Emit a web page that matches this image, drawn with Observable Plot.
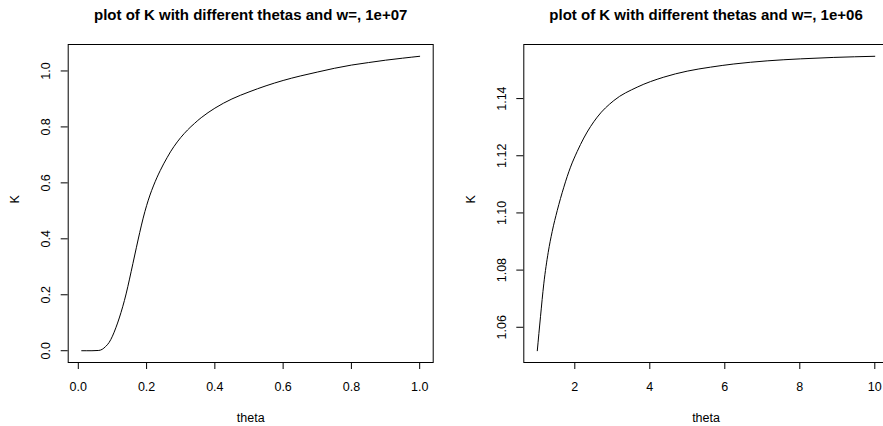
<!DOCTYPE html>
<html><head><meta charset="utf-8">
<script src="https://cdn.jsdelivr.net/npm/d3@7"></script>
<script src="https://cdn.jsdelivr.net/npm/@observablehq/plot@0.6"></script>
<style>
body{margin:0;background:#fff}
#wrap{position:relative;width:883px;height:426px;overflow:hidden;background:#fff}
.panel{position:absolute;top:0}
</style>
</head><body><div id="wrap"></div>
<script>
// Left panel (w = 1e+07)
const titleA = "plot of K with different thetas and w=, 1e+07";
const thetaA = [0.01, 0.04, 0.06, 0.07, 0.08, 0.09, 0.10, 0.11, 0.12, 0.13, 0.14, 0.15, 0.16, 0.17, 0.18, 0.19, 0.20, 0.21, 0.22, 0.23, 0.24, 0.25, 0.26, 0.27, 0.28, 0.29, 0.30, 0.31, 0.32, 0.33, 0.34, 0.35, 0.36, 0.38, 0.40, 0.45, 0.50, 0.55, 0.60, 0.65, 0.70, 0.75, 0.80, 0.85, 0.90, 0.95, 1.00];
const kA     = [0, 0, 0.001, 0.005, 0.015, 0.029, 0.052, 0.082, 0.117, 0.157, 0.203, 0.256, 0.312, 0.368, 0.423, 0.474, 0.5185, 0.5565, 0.589, 0.618, 0.644, 0.668, 0.690, 0.711, 0.7295, 0.7465, 0.762, 0.776, 0.789, 0.801, 0.812, 0.823, 0.833, 0.851, 0.867, 0.900, 0.925, 0.947, 0.966, 0.982, 0.996, 1.0095, 1.021, 1.030, 1.0385, 1.0457, 1.0525];
const xTicksA = [0, 0.2, 0.4, 0.6, 0.8, 1.0];
const yTicksA = [0, 0.2, 0.4, 0.6, 0.8, 1.0];

// Right panel (w = 1e+06)
const titleB = "plot of K with different thetas and w=, 1e+06";
const thetaB = [1.0, 1.085, 1.173, 1.291, 1.397, 1.531, 1.707, 1.885, 2.064, 2.24, 2.597, 3.04, 3.664, 4.373, 4.997, 5.619, 6.24, 7.13, 8.02, 8.907, 10.0];
const kB     = [1.0518, 1.0637, 1.0752, 1.0862, 1.0935, 1.1008, 1.1090, 1.1160, 1.1215, 1.1262, 1.1335, 1.1393, 1.1440, 1.1475, 1.1496, 1.1510, 1.1521, 1.1532, 1.1539, 1.1544, 1.1548];
const xTicksB = [2, 4, 6, 8, 10];
const yTicksB = [1.06, 1.08, 1.10, 1.12, 1.14];

const xLabel = "theta";
const yLabel = "K";

function pad(ext) { const r = ext[1] - ext[0]; return [ext[0] - 0.04 * r, ext[1] + 0.04 * r]; }

function panel({theta, k, title, xTicks, yTicks, xFmt, yFmt, width, marginLeft, marginRight}) {
  const data = theta.map((t, i) => ({theta: t, K: k[i]}));
  return Plot.plot({
    width, height: 426, marginLeft, marginRight, marginTop: 44, marginBottom: 64,
    style: {fontFamily: "'Liberation Sans', Arial, Helvetica, sans-serif", fontSize: "12.5px", background: "white", color: "black", overflow: "visible"},
    x: {domain: pad(d3.extent(theta))},
    y: {domain: pad(d3.extent(k))},
    marks: [
      Plot.frame({stroke: "black", strokeWidth: 1}),
      Plot.axisX({ticks: xTicks, tickSize: 7, tickPadding: 13, tickFormat: xFmt, label: null}),
      Plot.axisY({ticks: yTicks, tickSize: 7, tickPadding: 11, tickRotate: -90, tickFormat: yFmt, label: null}),
      Plot.line(data, {x: "theta", y: "K", stroke: "black", strokeWidth: 1, curve: "monotone-x"}),
      Plot.text([title], {frameAnchor: "top", dy: -25, lineAnchor: "bottom", fontWeight: "bold", fontSize: 15, text: d => d}),
      Plot.text([xLabel], {frameAnchor: "bottom", dy: 59, lineAnchor: "bottom", text: d => d}),
      Plot.text([yLabel], {frameAnchor: "left", dx: -49, rotate: -90, lineAnchor: "bottom", text: d => d})
    ]
  });
}

const wrap = document.getElementById("wrap");
const a = panel({theta: thetaA, k: kA, title: titleA, xTicks: xTicksA, yTicks: yTicksA,
  xFmt: d3.format(".1f"), yFmt: d3.format(".1f"), width: 441, marginLeft: 67.7, marginRight: 8.3});
a.classList.add("panel"); a.style.left = "0px";
const b = panel({theta: thetaB, k: kB, title: titleB, xTicks: xTicksB, yTicks: yTicksB,
  xFmt: d3.format("d"), yFmt: d3.format(".2f"), width: 450, marginLeft: 82.3, marginRight: 3.2});
b.classList.add("panel"); b.style.left = "441px";
wrap.appendChild(a);
wrap.appendChild(b);
</script>
</body></html>
